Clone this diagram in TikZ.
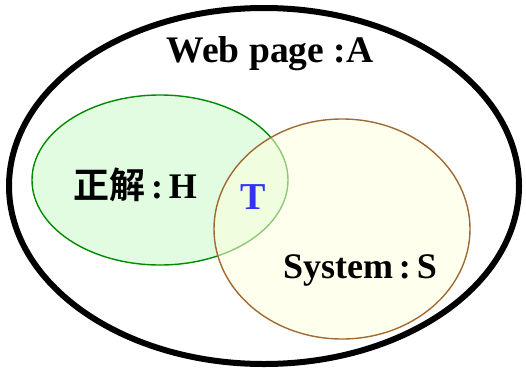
\documentclass[tikz,border=0pt]{standalone}
\usepackage{fontspec}
\usetikzlibrary{shapes.geometric}
\setmainfont{Liberation Serif}
\newfontfamily\cjk{Noto Sans CJK SC}[BoldFont={* Bold}]
\definecolor{gfill}{HTML}{E2FCE2}
\definecolor{gline}{HTML}{008A00}
\definecolor{yfill}{HTML}{FFFFDE}
\definecolor{yline}{HTML}{A06A32}
\definecolor{tblue}{HTML}{3333F0}
\begin{document}
\begin{tikzpicture}[x=1pt,y=-1pt,
  lbl/.style={font=\bfseries, anchor=base, inner sep=0pt}]
\useasboundingbox (0,0) rectangle (526,369);
\node[draw=black, line width=6pt, ellipse, minimum width=510pt, minimum height=356pt, inner sep=0pt] (A) at (264,186) {};
\draw[gline, fill=gfill, line width=1.4pt] (160,180) ellipse [x radius=128, y radius=85];
\node (H) at (160,180) {};
\draw[yline, line width=1.4pt, fill=yfill, fill opacity=0.55] (342,229) ellipse [x radius=128, y radius=110];
\node (S) at (342,229) {};
\node[lbl, font=\bfseries\fontsize{37.5}{40}\selectfont] (tA) at (270,63) {Web page :A};
\node[lbl, font=\bfseries\fontsize{36}{40}\selectfont] (tH) at (135,198) {{\cjk\bfseries 正解}\,:\,H};
\node[lbl, font=\bfseries\fontsize{38}{40}\selectfont, text=tblue] (tT) at (253,209) {T};
\node[lbl, font=\bfseries\fontsize{36}{40}\selectfont] (tS) at (360,278) {System\,:\,S};
\end{tikzpicture}
\end{document}
